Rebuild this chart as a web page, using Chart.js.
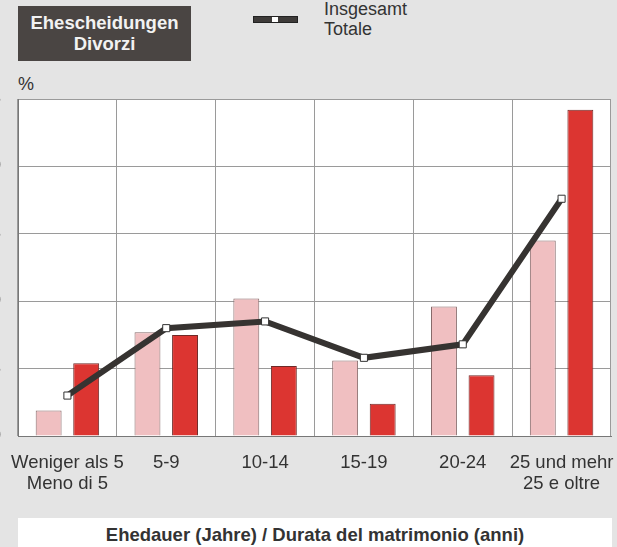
<!DOCTYPE html>
<html lang="de">
<head>
<meta charset="UTF-8">
<title>Ehescheidungen nach Ehedauer</title>
<script src="https://cdn.jsdelivr.net/npm/chart.js"></script>
<style>
    * { margin: 0; padding: 0; box-sizing: border-box; }

    body {
        width: 617px;
        height: 547px;
        background: #e4e4e4;
        color: #333;
        font-family: Arial, "Liberation Sans", sans-serif;
        position: relative;
        overflow: hidden;
    }

    #chartBox { position: absolute; left: -40px; top: 0; }

    .title {
        position: absolute; left: 18px; top: 6px; width: 173px; height: 55px;
        background: #4a4543; color: #f2f2f2;
        font-weight: bold; font-size: 18.5px; line-height: 21px;
        text-align: center; padding-top: 6px;
    }

    .swatch {
        position: absolute; left: 253px; top: 16px; width: 45px; height: 7px;
        background: #3e3b39; border: 1px solid #222;
    }
    .swatch span {
        position: absolute; left: 18px; top: 0; width: 6px; height: 5px; background: #fff;
    }
    .legendText {
        position: absolute; left: 324px; top: -1px; font-size: 18px; line-height: 20px;
    }

    .unit { position: absolute; left: 18px; top: 74px; font-size: 18px; line-height: 20px; }

    .axisTitle {
        position: absolute; left: 18px; top: 518px; width: 594px; height: 40px;
        background: #fff; font-weight: bold; font-size: 18.5px; line-height: 20px;
        text-align: center; padding-top: 7px;
    }
</style>
</head>
<body>
    <div class="title">Ehescheidungen<br>Divorzi</div>
    <div class="swatch"><span></span></div>
    <div class="legendText">Insgesamt<br>Totale</div>
    <div class="unit">%</div>

    <div id="chartBox"><canvas id="chart" width="657" height="500"></canvas></div>

    <div class="axisTitle">Ehedauer (Jahre) / Durata del matrimonio (anni)</div>

<script>
    // categories (marriage duration)
    const categories = [
        ['Weniger als 5', 'Meno di 5'],
        '5-9',
        '10-14',
        '15-19',
        '20-24',
        ['25 und mehr', '25 e oltre']
    ];

    // values (%)
    const seriesLight = [1.9, 7.7, 10.2, 5.6, 9.6, 14.5];
    const seriesDark = [5.4, 7.5, 5.2, 2.4, 4.5, 24.2];
    const totals = [3.0, 8.0, 8.5, 5.8, 6.8, 17.6];

    const yTicks = [0, 5, 10, 15, 20, 25];

    // white plot area
    const plotBg = {
        id: 'plotBg',
        beforeDraw(chart) {
            const a = chart.chartArea;
            const ctx = chart.ctx;
            ctx.save();
            ctx.fillStyle = '#ffffff';
            ctx.fillRect(a.left, a.top, a.right - a.left, a.bottom - a.top);
            ctx.restore();
        }
    };

    const ctx = document.getElementById('chart').getContext('2d');

    new Chart(ctx, {
        type: 'bar',
        data: {
            labels: categories,
            datasets: [
                {
                    type: 'line',
                    label: 'Insgesamt / Totale',
                    data: totals,
                    borderColor: '#363331',
                    borderWidth: 6,
                    pointStyle: 'rect',
                    pointRadius: 5,
                    pointBackgroundColor: '#ffffff',
                    pointBorderColor: '#333333',
                    pointBorderWidth: 1,
                    tension: 0,
                    order: 0
                },
                {
                    label: 'A',
                    data: seriesLight,
                    backgroundColor: '#f0bfc1',
                    borderColor: '#866a6a',
                    borderWidth: 1,
                    categoryPercentage: 0.76,
                    barPercentage: 0.69,
                    order: 1
                },
                {
                    label: 'B',
                    data: seriesDark,
                    backgroundColor: '#dc3531',
                    borderColor: '#6e2a28',
                    borderWidth: 1,
                    categoryPercentage: 0.76,
                    barPercentage: 0.69,
                    order: 1
                }
            ]
        },
        options: {
            responsive: false,
            animation: false,
            layout: { padding: { top: 99, right: 3, left: 0, bottom: 0 } },
            plugins: {
                legend: { display: false },
                tooltip: { enabled: false }
            },
            scales: {
                x: {
                    afterFit(axis) {
                        axis.height = 64;
                        axis.paddingLeft = 0;
                        axis.paddingRight = 0;
                    },
                    grid: { color: '#9a9a9a', drawTicks: false, offset: true },
                    border: { color: '#777777' },
                    ticks: {
                        color: '#333333',
                        font: { family: 'Arial, "Liberation Sans"', size: 18.5, lineHeight: 1.1 },
                        padding: 17,
                        maxRotation: 0,
                        autoSkip: false
                    }
                },
                y: {
                    min: 0,
                    max: 25,
                    afterFit(axis) { axis.width = 58; },
                    afterBuildTicks(axis) { axis.ticks = yTicks.map(v => ({ value: v })); },
                    grid: { color: '#9a9a9a', drawTicks: false },
                    border: { color: '#777777' },
                    ticks: {
                        color: '#333333',
                        font: { family: 'Arial, "Liberation Sans"', size: 18 },
                        padding: 17
                    }
                }
            }
        },
        plugins: [plotBg]
    });
</script>
</body>
</html>
